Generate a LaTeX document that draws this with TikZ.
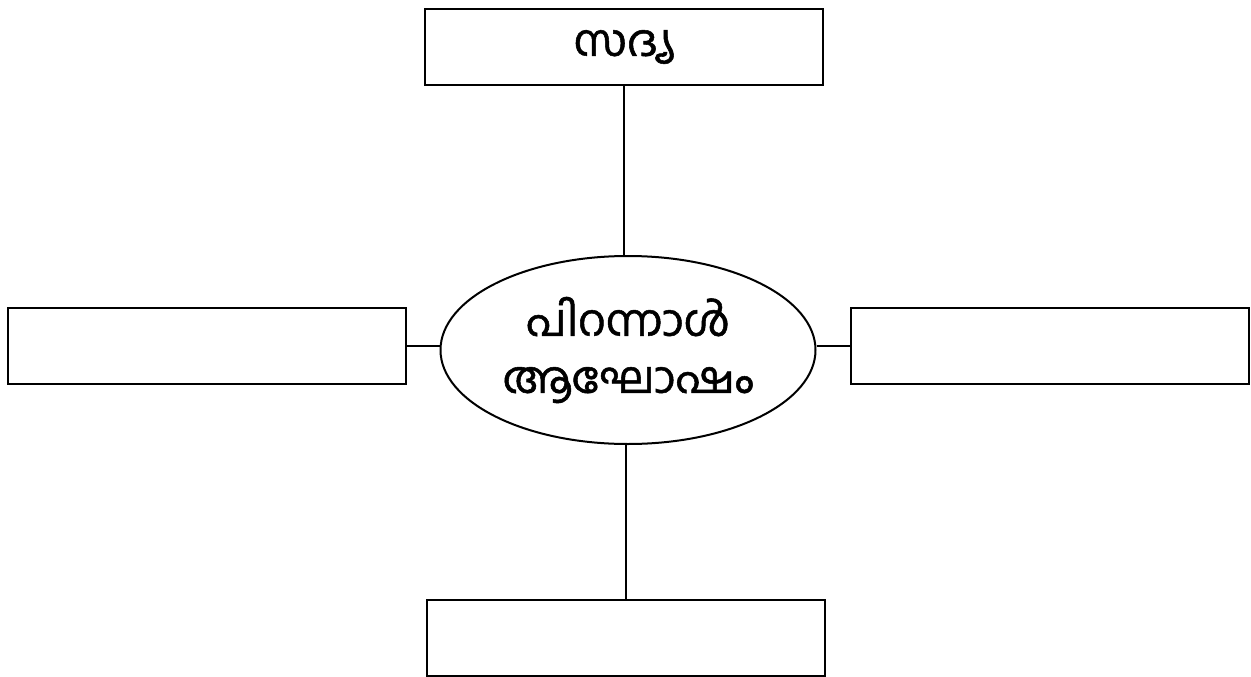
\documentclass[tikz,border=0pt]{standalone}
\usepackage{fontspec}
\newfontfamily\malfont[Script=Malayalam,FakeBold=1.2]{Hind Kochi}
\usepackage{tikz}
\usetikzlibrary{shapes.geometric}
\tikzstyle{Box}=[draw,line width=2pt,minimum width=398pt,minimum height=76pt,
inner sep=0pt,font=\malfont\fontsize{44}{52}\selectfont]
\tikzstyle{Hub}=[ellipse,draw,line width=2pt,minimum width=375pt,minimum height=188pt,
inner sep=0pt,align=center,font=\malfont\fontsize{44}{57}\selectfont]
\tikzstyle{Edge}=[draw,line width=2pt]
\begin{document}
\begin{tikzpicture}[x=1pt,y=-1pt]
            \useasboundingbox(0,0)rectangle(1251,677);
            \node[Hub](c)at(628,350){പിറന്നാൾ\\ആഘോഷം};
            \node[Box](t)at(624,47){സദ്യ};
            \node[Box](l)at(207,346){};
            \node[Box](r)at(1050,346){};
            \node[Box](b)at(626,638){};
            \draw[Edge](t.south)--(t.south|-c.north);
            \draw[Edge](b.north)--(b.north|-c.south);
            \draw[Edge](l.east)--(c.west|-l.east);
            \draw[Edge](r.west)--(c.east|-r.west);
        \end{tikzpicture}
\end{document}
